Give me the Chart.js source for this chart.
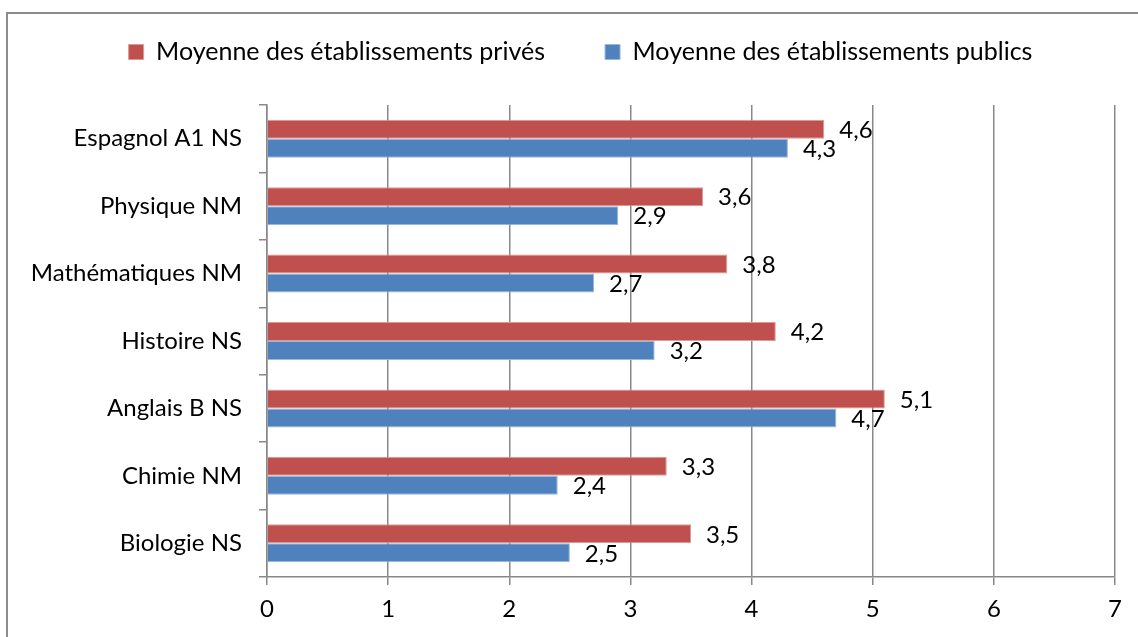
<!DOCTYPE html>
<html>
<head>
<meta charset="utf-8">
<script src="https://cdn.jsdelivr.net/npm/chart.js@4"></script>
<style>
  html, body { margin: 0; padding: 0; background: #fff; }
  #wrap { width: 1138px; height: 637px; }
</style>
</head>
<body>
<div id="wrap"><canvas id="barChart" width="1138" height="637"></canvas></div>
<script>
const matieres = ['Espagnol A1 NS', 'Physique NM', 'Mathématiques NM', 'Histoire NS', 'Anglais B NS', 'Chimie NM', 'Biologie NS'];
const prives = [4.6, 3.6, 3.8, 4.2, 5.1, 3.3, 3.5];
const publics = [4.3, 2.9, 2.7, 3.2, 4.7, 2.4, 2.5];
const xTicks = [0, 1, 2, 3, 4, 5, 6, 7];

const FONT = 'Lato, "Open Sans", sans-serif';
const FS = 24;
const LEGEND_FS = 25;
const GRID = '#888888';

// outer frame (top + left edges only, the rest is cut off)
const framePlugin = {
    id: 'frame',
    beforeDraw(chart) {
        const c = chart.ctx;
        c.save();
        c.fillStyle = '#fff';
        c.fillRect(0, 0, chart.width, chart.height);
        c.strokeStyle = '#8c8c8c';
        c.lineWidth = 2;
        c.beginPath();
        c.moveTo(7, chart.height);
        c.lineTo(7, 13);
        c.lineTo(chart.width, 13);
        c.stroke();
        c.restore();
    },
    afterLayout(chart) {
        // put the legend row where it sits in the original
        const lg = chart.legend;
        const h = lg.bottom - lg.top;
        lg.top = 52 - lg.options.labels.padding - LEGEND_FS / 2;
        lg.bottom = lg.top + h;
        lg.left += 18;
        lg.right += 18;
    }
};

// value labels at the end of each bar, with a decimal comma
const valueLabels = {
    id: 'valueLabels',
    afterDatasetsDraw(chart) {
        const c = chart.ctx;
        c.save();
        c.font = FS + 'px ' + FONT;
        c.fillStyle = '#000';
        c.textAlign = 'left';
        c.textBaseline = 'middle';
        chart.data.datasets.forEach((ds, i) => {
            chart.getDatasetMeta(i).data.forEach((bar, j) => {
                c.fillText(String(ds.data[j]).replace('.', ','), bar.x + 15, bar.y + 1);
            });
        });
        c.restore();
    }
};

const ctx = document.getElementById('barChart').getContext('2d');
const barChart = new Chart(ctx, {
    type: 'bar',
    data: {
        labels: matieres,
        datasets: [
            { label: 'Moyenne des établissements privés', data: prives, backgroundColor: '#C0504D', borderColor: '#D99A98', borderWidth: 1 },
            { label: 'Moyenne des établissements publics', data: publics, backgroundColor: '#4F81BD', borderColor: '#9BB7DA', borderWidth: 1 }
        ]
    },
    options: {
        indexAxis: 'y',
        responsive: false,
        animation: false,
        categoryPercentage: 0.564,
        barPercentage: 1.0,
        layout: { padding: { left: 10, right: 23, top: 10, bottom: 0 } },
        plugins: {
            legend: {
                position: 'top',
                labels: {
                    boxWidth: 15, boxHeight: 15, padding: 60,
                    color: '#000', font: { family: FONT, size: LEGEND_FS }
                }
            },
            tooltip: { enabled: false }
        },
        scales: {
            x: {
                min: 0, max: 7,
                afterBuildTicks: s => { s.ticks = xTicks.map(v => ({ value: v })); },
                afterFit: s => { s.height = 60; },
                grid: { color: GRID, lineWidth: 1.5, tickLength: 8 },
                border: { color: GRID, width: 1.5 },
                ticks: { color: '#000', padding: 10, font: { family: FONT, size: FS } }
            },
            y: {
                afterFit: s => { s.width = 257; },
                grid: { offset: true, drawOnChartArea: false, color: GRID, lineWidth: 1.5, tickLength: 8 },
                border: { color: GRID, width: 1.5 },
                ticks: { color: '#000', padding: 17, font: { family: FONT, size: FS } }
            }
        }
    },
    plugins: [framePlugin, valueLabels]
});
</script>
</body>
</html>
